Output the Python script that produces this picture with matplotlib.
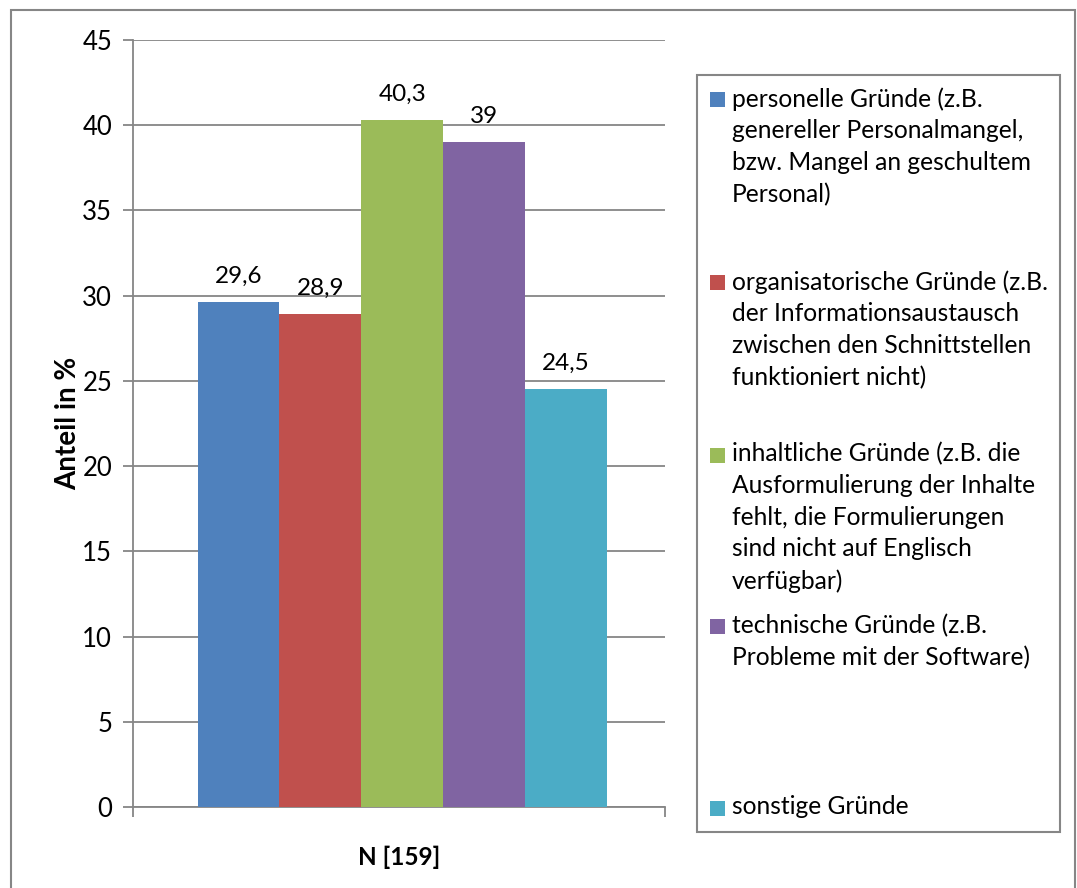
import matplotlib
matplotlib.use("Agg")
import matplotlib.pyplot as plt
from matplotlib.patches import Rectangle

plt.rcParams['font.family'] = ['Lato', 'DejaVu Sans']

categories = ["N [159]"]
series_labels = [
    "personelle Gründe (z.B.\ngenereller Personalmangel,\nbzw. Mangel an geschultem\nPersonal)",
    "organisatorische Gründe (z.B.\nder Informationsaustausch\nzwischen den Schnittstellen\nfunktioniert nicht)",
    "inhaltliche Gründe (z.B. die\nAusformulierung der Inhalte\nfehlt, die Formulierungen\nsind nicht auf Englisch\nverfügbar)",
    "technische Gründe (z.B.\nProbleme mit der Software)",
    "sonstige Gründe",
]
values = [29.6, 28.9, 40.3, 39.0, 24.5]
value_labels = ["29,6", "28,9", "40,3", "39", "24,5"]
colors = ["#4F81BD", "#C0504D", "#9BBB59", "#8064A2", "#4BACC6"]
yticks = [0, 5, 10, 15, 20, 25, 30, 35, 40, 45]

W, H = 1077, 888
fig = plt.figure(figsize=(W / 100, H / 100), dpi=100)
fig.patch.set_facecolor("white")

# outer chart border
fig.add_artist(Rectangle((11 / W, -0.05), (1075 - 11) / W, 1.05 - 10 / H,
                         transform=fig.transFigure, fill=False,
                         edgecolor="#868686", linewidth=1.5))

ax = fig.add_axes([133 / W, 1 - 807 / H, (665 - 133) / W, (807 - 40) / H])
grid_c = "#868686"
n = len(values)
bw = 0.1538
offsets = [(i - (n - 1) / 2) * bw for i in range(n)]
for i, (v, c, lab) in enumerate(zip(values, colors, value_labels)):
    x = 0 + offsets[i] + 0.006
    ax.bar(x, v, width=bw, color=c, zorder=3, linewidth=0)
    ax.annotate(lab, (x, v), xytext=(0, 26), textcoords="offset pixels",
                ha="center", va="center", fontsize=17.5, color="black")

ax.set_xlim(-0.5, 0.5)
ax.set_ylim(0, 45)
ax.set_yticks(yticks)
ax.set_yticklabels([str(t) for t in yticks], fontsize=18.5)
ax.yaxis.grid(True, color=grid_c, linewidth=1.3, zorder=0)
ax.set_axisbelow(True)
for s in ["top", "right"]:
    ax.spines[s].set_visible(False)
for s in ["left", "bottom"]:
    ax.spines[s].set_color(grid_c)
    ax.spines[s].set_linewidth(1.3)
ax.tick_params(axis="y", length=7, width=1.3, color=grid_c, pad=8)
ax.set_xticks([0])
ax.set_xticklabels(categories, fontsize=17.5, fontweight="bold")
ax.tick_params(axis="x", length=0, pad=28)
ax.set_xticks([-0.5, 0.5], minor=True)
ax.tick_params(axis="x", which="minor", length=7, width=1.3, color=grid_c)
ax.set_ylabel("Anteil in %", fontsize=20, fontweight="bold", labelpad=1)

# legend box
lx0, ly0, lx1, ly1 = 697, 75, 1060, 832
fig.add_artist(Rectangle((lx0 / W, 1 - ly1 / H), (lx1 - lx0) / W, (ly1 - ly0) / H,
                         transform=fig.transFigure, fill=False,
                         edgecolor="#868686", linewidth=1.5))
entry_y = [100, 283, 455, 627, 808]
for lab, c, ey in zip(series_labels, colors, entry_y):
    fig.add_artist(Rectangle((710 / W, 1 - (ey + 7.5) / H), 15 / W, 15 / H,
                             transform=fig.transFigure, facecolor=c, edgecolor="none"))
    fig.text(732 / W, 1 - (ey - 13) / H, lab, ha="left", va="top",
             fontsize=17.7, linespacing=1.455, color="black")

fig.savefig("out.png", dpi=100)
